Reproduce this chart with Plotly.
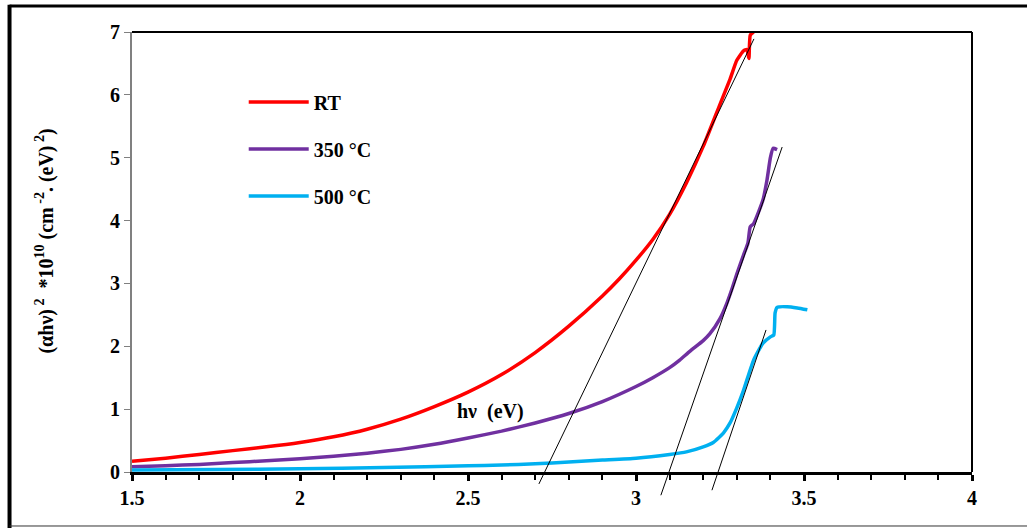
import plotly.graph_objects as go

# ---------------- data ----------------
rt_x = [1.5, 1.6, 1.7, 1.8, 1.9, 2.0, 2.1, 2.2, 2.3, 2.4, 2.5, 2.6, 2.7, 2.8, 2.9, 2.95, 3.0,
        3.05, 3.1, 3.15, 3.2, 3.25, 3.28, 3.3, 3.32, 3.33, 3.336, 3.34, 3.35]
rt_y = [0.17, 0.22, 0.28, 0.34, 0.40, 0.47, 0.56, 0.68, 0.84, 1.04, 1.27, 1.55, 1.90, 2.32, 2.80, 3.07, 3.37,
        3.70, 4.10, 4.60, 5.18, 5.85, 6.25, 6.55, 6.70, 6.72, 6.58, 6.95, 7.0]

t350_x = [1.5, 1.6, 1.7, 1.8, 1.9, 2.0, 2.1, 2.2, 2.3, 2.4, 2.5, 2.6, 2.7, 2.8, 2.9, 3.0,
          3.05, 3.1, 3.13, 3.16, 3.2, 3.22, 3.25, 3.27, 3.286, 3.3, 3.32, 3.333, 3.34, 3.35,
          3.378, 3.39, 3.4, 3.408, 3.42]
t350_y = [0.085, 0.10, 0.12, 0.15, 0.18, 0.21, 0.25, 0.30, 0.36, 0.44, 0.54, 0.65, 0.78, 0.93, 1.12, 1.36,
          1.50, 1.66, 1.78, 1.92, 2.09, 2.20, 2.44, 2.68, 2.92, 3.15, 3.45, 3.64, 3.90, 3.95,
          4.33, 4.65, 5.0, 5.15, 5.13]

t500_x = [1.5, 1.75, 2.0, 2.25, 2.5, 2.6, 2.7, 2.8, 2.9, 3.0, 3.1, 3.15, 3.2, 3.23, 3.26, 3.28,
          3.3, 3.32, 3.35, 3.378, 3.4, 3.41, 3.414, 3.42, 3.45, 3.48, 3.51]
t500_y = [0.03, 0.04, 0.05, 0.07, 0.10, 0.11, 0.13, 0.16, 0.19, 0.22, 0.28, 0.32, 0.40, 0.47, 0.62, 0.78,
          1.02, 1.30, 1.78, 2.05, 2.15, 2.18, 2.53, 2.62, 2.63, 2.61, 2.58]

# tangent lines: (x0, y0, x1, y1)
tangent_x0 = [2.711, 3.074, 3.226]
tangent_y0 = [-0.19, -0.37, -0.29]
tangent_x1 = [3.351, 3.435, 3.387]
tangent_y1 = [6.89, 5.17, 2.26]

series_names = ["RT", "350 °C", "500 °C"]
series_colors = ["#FF0000", "#7030A0", "#00B0F0"]

x_range = [1.5, 4.0]
y_range = [0, 7]
x_major_step = 0.5
x_minor_step = 0.1
y_step = 1

FONT = "Liberation Serif, Times New Roman, serif"

fig = go.Figure()
for i, (xs, ys) in enumerate([(rt_x, rt_y), (t350_x, t350_y), (t500_x, t500_y)]):
    fig.add_trace(go.Scatter(
        x=xs, y=ys, mode="lines", name=series_names[i], legendgroup=series_names[i],
        line=dict(color=series_colors[i], width=3.5, shape="spline", smoothing=0.5),
    ))

shapes = []
ymax = y_range[1]
for x0, y0, x1, y1 in zip(tangent_x0, tangent_y0, tangent_x1, tangent_y1):
    shapes.append(dict(type="line", xref="x", yref="paper", x0=x0, x1=x1,
                       y0=y0 / ymax, y1=y1 / ymax, line=dict(color="black", width=1)))

# plot border (top and right)
shapes.append(dict(type="line", xref="paper", yref="paper", x0=0, x1=1, y0=1, y1=1,
                   line=dict(color="black", width=2)))
shapes.append(dict(type="line", xref="paper", yref="paper", x0=1, x1=1, y0=0, y1=1,
                   line=dict(color="black", width=2)))
# outer frame
shapes.append(dict(type="line", xref="paper", yref="paper", x0=-0.1458, x1=-0.1458, y0=-0.13, y1=1.062,
                   line=dict(color="black", width=4)))
shapes.append(dict(type="line", xref="paper", yref="paper", x0=-0.1458, x1=1.07, y0=1.059, y1=1.059,
                   line=dict(color="black", width=3)))
shapes.append(dict(type="line", xref="paper", yref="paper", x0=-0.1458, x1=1.07, y0=-0.1227, y1=-0.1227,
                   line=dict(color="#333333", width=1)))

fig.update_layout(
    width=1027, height=528,
    margin=dict(l=132, r=55, t=32, b=56),
    paper_bgcolor="white", plot_bgcolor="white",
    font=dict(family=FONT, color="black"),
    shapes=shapes,
    showlegend=True,
    legend=dict(x=0.133, y=0.885, xanchor="left", yanchor="top",
                bgcolor="rgba(0,0,0,0)", tracegroupgap=18, itemwidth=60,
                font=dict(family=FONT, size=20, color="black", weight="bold")),
    xaxis=dict(range=x_range, tickmode="linear", tick0=x_range[0], dtick=x_major_step,
               showgrid=False, zeroline=False, showline=True, linecolor="black", linewidth=3,
               ticks="outside", ticklen=6, tickwidth=3, tickcolor="black",
               tickfont=dict(family=FONT, size=20, color="black", weight="bold"),
               minor=dict(tickmode="linear", dtick=x_minor_step, ticks="outside", ticklen=5,
                          tickwidth=2, tickcolor="black", showgrid=False)),
    yaxis=dict(range=y_range, tickmode="linear", tick0=0, dtick=y_step,
               showgrid=False, zeroline=False, showline=True, linecolor="#808080", linewidth=2,
               ticks="outside", ticklen=6, tickwidth=1, tickcolor="#808080",
               tickfont=dict(family=FONT, size=20, color="black", weight="bold")),
    annotations=[
        dict(text="(αhν)<sup> 2</sup>  *10<sup>10</sup> (cm<sup> -2</sup>. (eV)<sup> 2</sup>)",
             xref="paper", yref="paper", x=-0.1036, y=0.526, textangle=-90,
             showarrow=False, xanchor="center", yanchor="middle",
             font=dict(family=FONT, size=20, color="black", weight="bold")),
        dict(text="hν  (eV)", xref="x", yref="y", x=2.567, y=0.955, showarrow=False,
             xanchor="center", yanchor="middle",
             font=dict(family=FONT, size=20, color="black", weight="bold")),
    ],
)

fig.write_html("out.html")
